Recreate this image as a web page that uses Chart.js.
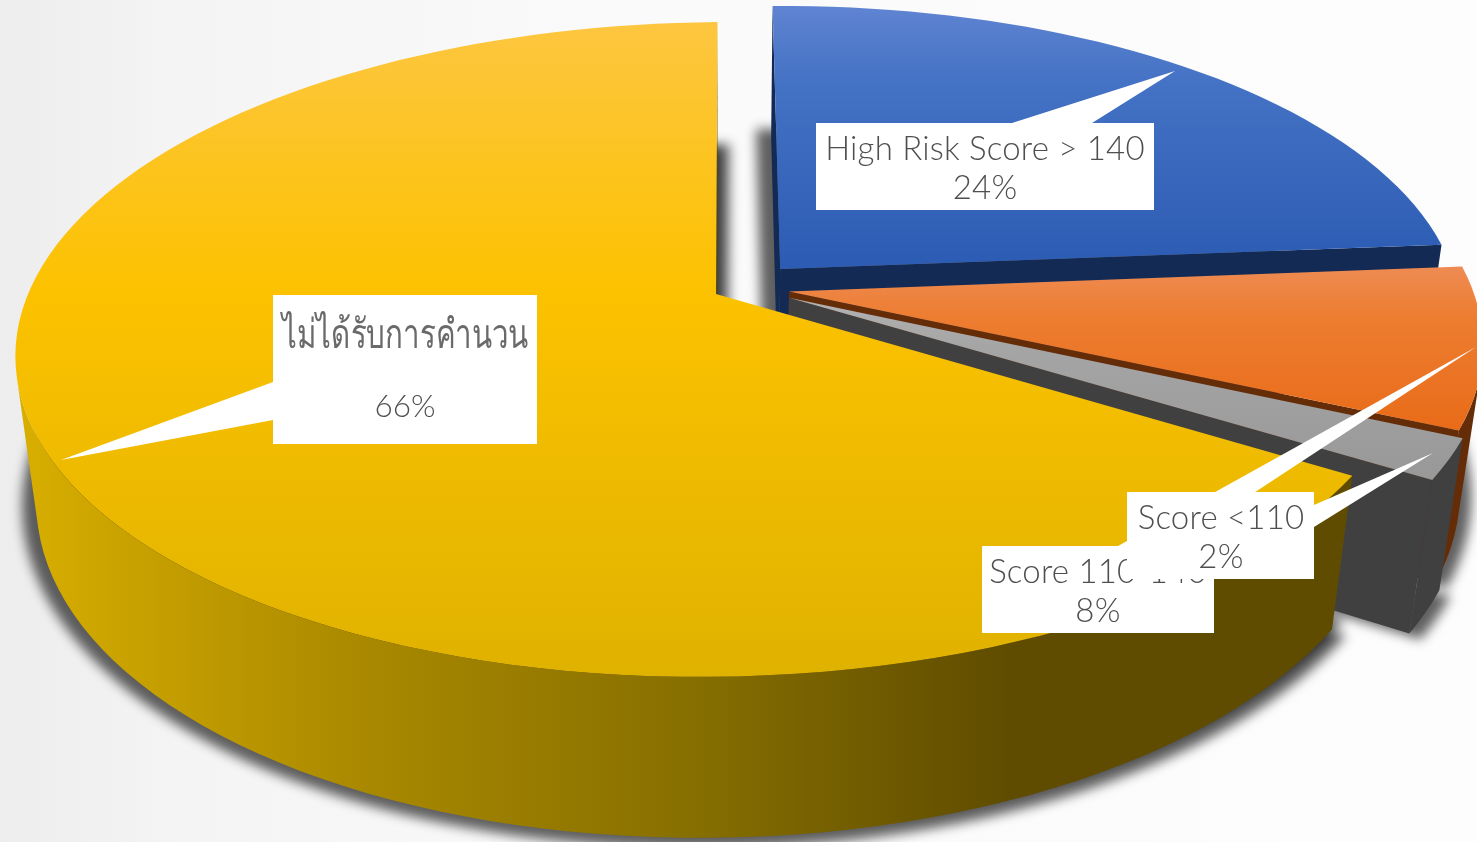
<!DOCTYPE html>
<html><head><meta charset="utf-8">
<style>
html,body{margin:0;padding:0;width:1477px;height:842px;overflow:hidden;
background:linear-gradient(90deg,#ededed 0,#f4f4f4 12%,#fafafa 40%,#fdfdfd 100%);}
canvas{display:block}
</style>
<script src="https://cdn.jsdelivr.net/npm/chart.js@4"></script>
</head><body>
<canvas id="c" width="1477" height="842"></canvas>
<script>
const categories=["High Risk Score > 140","Score 110-140","Score <110","ไม่ได้รับการคำนวน"];
const values=[24,8,2,66];
const topColors=[["#5f84d2","#4472c4","#2d5cb4"],["#ee8c55","#ed7d31","#e86a16"],["#b4b4b4","#a5a5a5","#999999"],["#fdc640","#fcc200","#dfb200"]];
const wallColors=["#122a54","#652c08","#404040","#5f4c00"];

const G={cx:716,cy:294,a:688,b:318,k:0.1695,m:0.03,d:150,sh:-0.02};
const explode=[[.093,-.08,.99],[.106,-.008,.996],[.106,.012,.998],[0,0,1]];
const topRange=[[6,260],[264,440],[294,470],[22,677]];
const shadows=[[{s:1,dx:-15,dy:-8}],[{s:1.01,dx:8,dy:5}],[{s:1.01,dx:8,dy:5}],[{s:1.022,dx:0,dy:3},{s:1,dx:12,dy:-10}]];
const layers=[0,1,2,3];
const boxes=[
 {r:[816,123,338,87],tip:[[1012,123],[1175,71],[1092,123]],lines:[[985,160],[985,199]],i:0},
 {r:[982,546,232,87],tip:[[1118,546],[1476,347],[1173,546]],lines:[[1098,583],[1098,622]],i:1},
 {r:[1127,492,187,87],tip:[[1314,505],[1433,453],[1314,527]],lines:[[1221,529],[1221,568]],i:2},
 {r:[273,295,264,149],tip:[[273,382],[61,460],[273,420]],lines:[[405,348],[405,417]],i:3}
];

function P(x,y,z,o){const r=o[2],X=x*r+o[0],Y=y*r+o[1],w=1-G.k*Y+G.m*z;return [G.cx+G.a*(X+G.sh*Y)/w,G.cy+(G.b*Y+G.d*z)/w];}
function poly(ctx,pts){ctx.beginPath();pts.forEach((p,i)=>i?ctx.lineTo(p[0],p[1]):ctx.moveTo(p[0],p[1]));ctx.closePath();}
function area(q){let s=0;for(let i=0;i<q.length;i++){const a=q[i],b=q[(i+1)%q.length];s+=a[0]*b[1]-b[0]*a[1];}return s;}
function rim(s,e,z,o){const n=Math.max(2,Math.ceil((e-s)/(Math.PI/90)));const out=[];for(let i=0;i<=n;i++){const t=s+(e-s)*i/n;out.push(P(Math.cos(t),Math.sin(t),z,o));}return out;}
function wedge(s,e,z,o){return [P(0,0,z,o),...rim(s,e,z,o)];}

const pie3d={id:'pie3d',
 beforeDatasetDraw(chart){
  const ctx=chart.ctx,arcs=chart.getDatasetMeta(0).data;
  ctx.save();ctx.filter='blur(6px)';ctx.fillStyle='rgba(0,0,0,.62)';
  layers.forEach(i=>{const g=arcs[i],pts=wedge(g.startAngle,g.endAngle,1,explode[i]);
   const xs=pts.map(p=>p[0]),ys=pts.map(p=>p[1]);
   const mx=(Math.min(...xs)+Math.max(...xs))/2,my=(Math.min(...ys)+Math.max(...ys))/2;
   shadows[i].forEach(h=>{poly(ctx,pts.map(p=>[mx+(p[0]-mx)*h.s+h.dx,my+(p[1]-my)*h.s+h.dy]));ctx.fill();});
  });
  ctx.restore();
  layers.forEach(i=>{
   const g=arcs[i],s=g.startAngle,e=g.endAngle,o=explode[i];
   const t=rim(s,e,0,o),b=rim(s,e,1,o),A0=P(0,0,0,o),A1=P(0,0,1,o);
   [[A0,t[0],b[0],A1],[t[t.length-1],A0,A1,b[b.length-1]]].forEach(q=>{
    if(area(q)<0){ctx.fillStyle=wallColors[i];poly(ctx,q);ctx.fill();}
   });
   let fill=wallColors[i];
   if(i===3){const lg=ctx.createLinearGradient(20,0,1340,0);
    lg.addColorStop(0,'#d8ae00');lg.addColorStop(.08,'#c9a200');lg.addColorStop(.25,'#ab8a00');lg.addColorStop(.5,'#887000');lg.addColorStop(.75,'#5f4c00');lg.addColorStop(1,'#5f4c00');fill=lg;}
   let run=[];
   const flush=()=>{if(run.length){const pts=[...run.map(j=>t[j]),...run.slice().reverse().map(j=>b[j])];ctx.fillStyle=fill;poly(ctx,pts);ctx.fill();run=[];}};
   for(let j=0;j<t.length-1;j++){
    if(area([t[j],t[j+1],b[j+1],b[j]])<0){if(!run.length)run.push(j);run.push(j+1);}else flush();
   }
   flush();
   const tg=ctx.createLinearGradient(0,topRange[i][0],0,topRange[i][1]);
   const c=topColors[i];tg.addColorStop(0,c[0]);tg.addColorStop(i===3?.41:.3,c[1]);tg.addColorStop(1,c[2]);
   ctx.fillStyle=tg;poly(ctx,wedge(s,e,0,o));ctx.fill();
  });
  return false;
 },
 afterDraw(chart){
  const ctx=chart.ctx;
  boxes.forEach(bx=>{
   ctx.fillStyle='#fff';ctx.fillRect(...bx.r);poly(ctx,bx.tip);ctx.fill();
   ctx.textAlign='center';ctx.textBaseline='alphabetic';
   if(bx.i===3){
    ctx.fillStyle='#6a6a6a';
    ctx.font='300 41px Lato, "Noto Sans", sans-serif';
    ctx.save();ctx.translate(bx.lines[0][0],bx.lines[0][1]);ctx.scale(.72,1);
    ctx.fillText(categories[bx.i],0,0);ctx.restore();
    ctx.fillStyle='#4f4f4f';
    ctx.font='300 31.5px Lato, "Noto Sans", sans-serif';
   } else {
    ctx.fillStyle='#4f4f4f';
    ctx.letterSpacing='0.2px';
    ctx.font='300 33px Lato, "Noto Sans", sans-serif';
    ctx.fillText(categories[bx.i],bx.lines[0][0],bx.lines[0][1]);
   }
   ctx.fillText(values[bx.i]+'%',bx.lines[1][0],bx.lines[1][1]);
   ctx.letterSpacing='0px';
  });
 }
};

new Chart(document.getElementById('c'),{
 type:'pie',
 data:{labels:categories,datasets:[{data:values,backgroundColor:topColors.map(c=>c[1]),borderWidth:0}]},
 options:{responsive:false,animation:false,rotation:-1,
  plugins:{legend:{display:false},tooltip:{enabled:false},title:{display:false}}},
 plugins:[pie3d]
});
</script>
</body></html>
